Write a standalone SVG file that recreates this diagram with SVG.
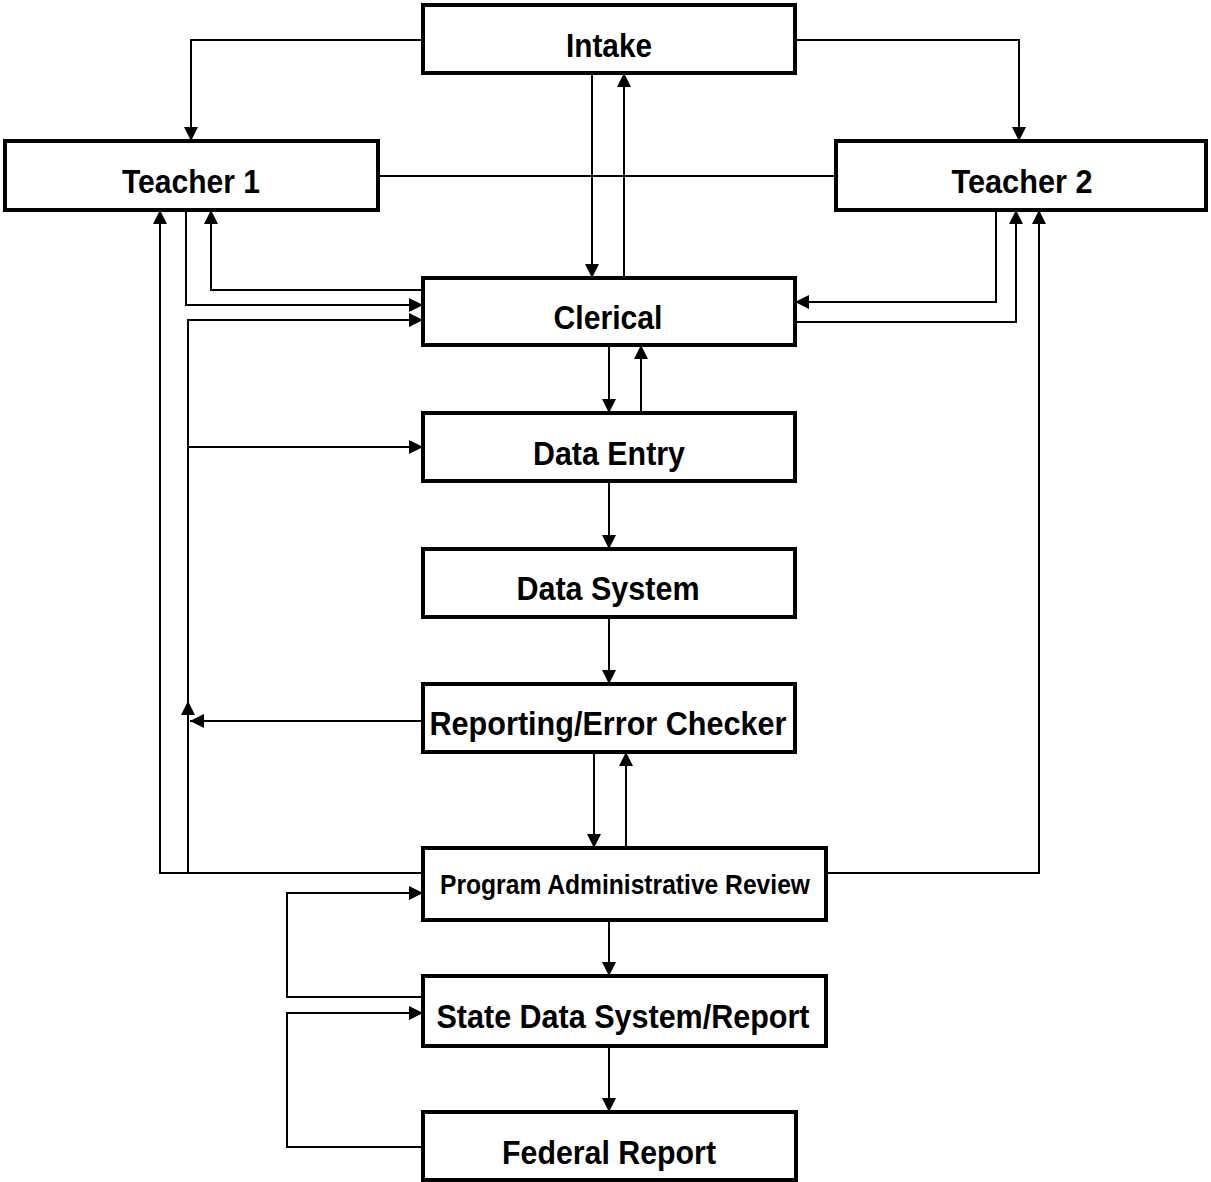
<svg xmlns="http://www.w3.org/2000/svg" width="1211" height="1182" viewBox="0 0 1211 1182">
<style>
.box{fill:#fff;stroke:#000;stroke-width:4}
.lbl{font-family:"Liberation Sans Narrow","Liberation Sans",Arial,sans-serif;font-weight:bold;font-size:34px;fill:#000;text-anchor:middle}
.sm{font-size:28px}
.c{fill:none;stroke:#000;stroke-width:2}
.a{marker-end:url(#arr)}
</style>
<defs>
<marker id="arr" markerUnits="userSpaceOnUse" markerWidth="16" markerHeight="16" refX="14" refY="7" orient="auto">
<path d="M0,0 L14,7 L0,14 Z" fill="#000"/>
</marker>
</defs>
<rect width="1211" height="1182" fill="#fff"/>
<g id="connectors">
<path class="c a" d="M423,40 H191 V141"/>
<path class="c a" d="M796,40 H1019 V141"/>
<path class="c" d="M378,176 H836"/>
<path class="c a" d="M592,73 V278"/>
<path class="c a" d="M624,278 V73"/>
<path class="c a" d="M423,290 H211 V210"/>
<path class="c a" d="M186,210 V305 H423"/>
<path class="c a" d="M188,873 V320 H423"/>
<path class="c a" d="M188,447 H423"/>
<path class="c a" d="M188,722 V701"/>
<path class="c a" d="M423,721 H190"/>
<path class="c a" d="M423,873 H160 V210"/>
<path class="c a" d="M996,210 V302 H795"/>
<path class="c a" d="M795,322 H1016 V210"/>
<path class="c a" d="M826,873 H1039 V210"/>
<path class="c a" d="M609,345 V413"/>
<path class="c a" d="M641,413 V345"/>
<path class="c a" d="M609,481 V549"/>
<path class="c a" d="M609,617 V684"/>
<path class="c a" d="M594,752 V848"/>
<path class="c a" d="M626,848 V752"/>
<path class="c a" d="M609,920 V976"/>
<path class="c a" d="M609,1046 V1112"/>
<path class="c a" d="M423,997 H287 V893 H423"/>
<path class="c a" d="M423,1147 H287 V1013 H423"/>
</g>
<g id="intake"><rect class="box" x="423" y="5" width="372" height="68"/><text class="lbl" x="609" y="57" textLength="86" lengthAdjust="spacingAndGlyphs">Intake</text></g>
<g id="teacher1"><rect class="box" x="5" y="141" width="373" height="69"/><text class="lbl" x="191" y="193" textLength="138" lengthAdjust="spacingAndGlyphs">Teacher 1</text></g>
<g id="teacher2"><rect class="box" x="836" y="141" width="370" height="69"/><text class="lbl" x="1022" y="193" textLength="141" lengthAdjust="spacingAndGlyphs">Teacher 2</text></g>
<g id="clerical"><rect class="box" x="423" y="278" width="372" height="67"/><text class="lbl" x="608" y="329" textLength="109" lengthAdjust="spacingAndGlyphs">Clerical</text></g>
<g id="dataentry"><rect class="box" x="423" y="413" width="372" height="68"/><text class="lbl" x="609" y="465" textLength="152" lengthAdjust="spacingAndGlyphs">Data Entry</text></g>
<g id="datasystem"><rect class="box" x="423" y="549" width="372" height="68"/><text class="lbl" x="608" y="600" textLength="183" lengthAdjust="spacingAndGlyphs">Data System</text></g>
<g id="reporting"><rect class="box" x="423" y="684" width="372" height="68"/><text class="lbl" x="608" y="735" textLength="357" lengthAdjust="spacingAndGlyphs">Reporting/Error Checker</text></g>
<g id="par"><rect class="box" x="423" y="848" width="403" height="72"/><text class="lbl sm" x="625" y="894" textLength="370" lengthAdjust="spacingAndGlyphs">Program Administrative Review</text></g>
<g id="state"><rect class="box" x="423" y="976" width="403" height="70"/><text class="lbl" x="623" y="1028" textLength="373" lengthAdjust="spacingAndGlyphs">State Data System/Report</text></g>
<g id="federal"><rect class="box" x="423" y="1112" width="373" height="68"/><text class="lbl" x="609" y="1164" textLength="214" lengthAdjust="spacingAndGlyphs">Federal Report</text></g>
</svg>
